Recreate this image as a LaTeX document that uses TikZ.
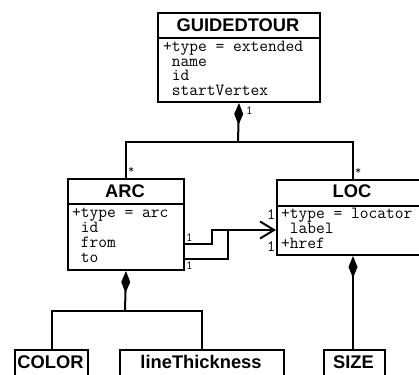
\documentclass[tikz,border=0pt]{standalone}
\usepackage{fontspec}
\newfontfamily\hfont{Liberation Sans}
\usetikzlibrary{arrows.meta}
\begin{document}
\begin{tikzpicture}[x=1pt,y=-1pt,line width=2pt,
  cls/.style={draw,line width=2pt,anchor=north west,inner sep=0pt},
  ttl/.style={font=\hfont\bfseries\fontsize{18.3}{20}\selectfont,inner sep=0pt,anchor=base},
  attr/.style={font=\ttfamily\fontsize{17}{15}\selectfont,inner sep=0pt,anchor=base west,text height=9pt,text depth=3pt},
  mult/.style={font=\ttfamily\fontsize{12.5}{11}\selectfont,inner sep=0pt,anchor=base west,text height=7pt,text depth=0pt},
  multb/.style={font=\ttfamily\fontsize{16}{14}\selectfont,inner sep=0pt,anchor=base west,text height=9pt,text depth=0pt},
  star/.style={font=\ttfamily\fontsize{12}{10}\selectfont,inner sep=0pt,anchor=base west,text height=7pt,text depth=0pt},
  comp/.style={{Diamond[length=22pt,width=9pt]}-},
  nav/.style={-{Straight Barb[length=14pt,width=17pt]}}]
\clip (0,0) rectangle (419,374);
% GUIDEDTOUR
\node[cls,minimum width=162pt,minimum height=89pt] (gt) at (157,12) {};
\draw (gt.west |- 0,38) -- (gt.east |- 0,38);
\node[ttl] (gtt) at (238,32) {GUIDEDTOUR};
\node[attr] (gta1) at (162,52) {+type = extended};
\node[attr] (gta2) at (162,66.5) {\phantom{+}name};
\node[attr] (gta3) at (162,81) {\phantom{+}id};
\node[attr] (gta4) at (162,96) {\phantom{+}startVertex};
% ARC
\node[cls,minimum width=116pt,minimum height=91pt] (arc) at (67,178) {};
\draw (arc.west |- 0,204) -- (arc.east |- 0,204);
\node[ttl] (arct) at (125,197) {ARC};
\node[attr] (arca1) at (71,217) {+type = arc};
\node[attr] (arca2) at (71,232) {\phantom{+}id};
\node[attr] (arca3) at (71,247) {\phantom{+}from};
\node[attr] (arca4) at (71,262) {\phantom{+}to};
% LOC
\node[cls,minimum width=152pt,minimum height=75pt] (loc) at (276,179) {};
\draw (loc.west |- 0,206) -- (loc.east |- 0,206);
\node[ttl] (loct) at (352,197) {LOC};
\node[attr] (loca1) at (280,218) {+type = locator};
\node[attr] (loca2) at (280,233) {\phantom{+}label};
\node[attr] (loca3) at (280,248) {+href};
% bottom classes
\node[cls,minimum width=73pt,minimum height=30pt] (color) at (14,349) {};
\node[ttl] (colort) at (50.5,368) {COLOR};
\node[cls,minimum width=164pt,minimum height=30pt] (lt) at (119,349) {};
\node[ttl] (ltt) at (201,368) {lineThickness};
\node[cls,minimum width=61pt,minimum height=30pt] (size) at (323,349) {};
\node[ttl] (sizet) at (353.5,368) {SIZE};
% compositions
\coordinate (j1) at (238,142);
\draw[comp] (gt.south) -- (j1);
\draw (j1) -| (arc.north);
\draw (j1) -| (loc.north);
\coordinate (j2) at (125,311);
\draw[comp] (arc.south) -- (j2);
\draw (j2) -| (color.north);
\draw (j2) -| (lt.north);
\draw[comp] (loc.south) -- (loc.south |- size.north);
% navigable associations
\coordinate (k1) at (212,230);
\coordinate (k2) at (228,230);
\draw (arc.east |- 0,244) -| (k1) -- (k2);
\draw (arc.east |- 0,259) -| (k2);
\draw[nav] (k2) -- (loc.west |- k2);
% multiplicities
\node[mult] (m1) at (245,115) {1};
\node[star] (s1) at (127,173) {*};
\node[star] (s2) at (354,174) {*};
\node[mult] (m2) at (185,241) {1};
\node[mult] (m3) at (185,269) {1};
\node[multb] (m4) at (266,219) {1};
\node[multb] (m5) at (266,251) {1};
\end{tikzpicture}
\end{document}
